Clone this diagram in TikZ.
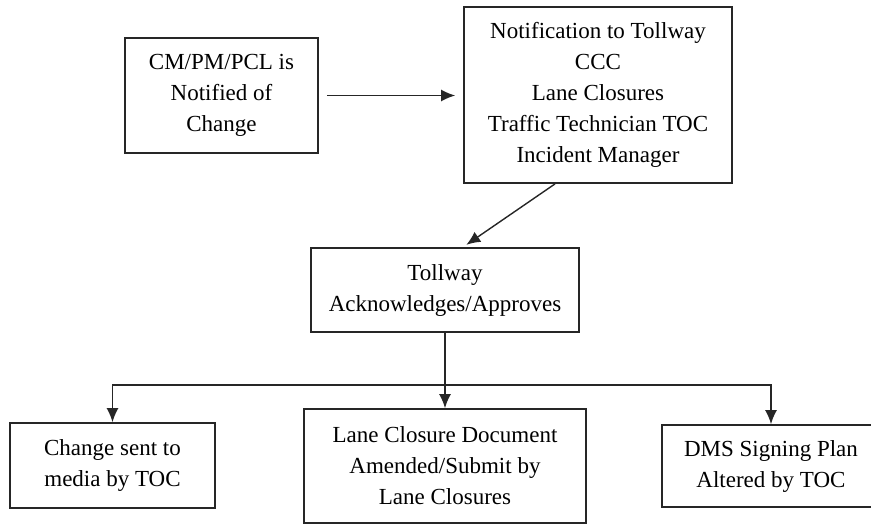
\documentclass[tikz,border=0pt]{standalone}
\usepackage{fontspec}
\setmainfont{Liberation Serif}
\usetikzlibrary{arrows.meta}

\tikzset{
  stepbox/.style={draw=black!85, line width=1.8pt, fill=white, align=center,
    inner sep=0pt, font=\fontsize{23}{31}\selectfont},
  flow/.style={draw=black!85, line width=1.4pt, -{Latex[length=14pt,width=12pt]}}
}

\begin{document}
\begin{tikzpicture}[x=1pt, y=-1pt]
      \useasboundingbox (0,0) rectangle (871,525);

      % Top row
      \node[stepbox, minimum width=193pt, minimum height=115pt] (notified) at (221.5,95.5)
          {CM/PM/PCL is\\Notified of\\Change};
      \node[stepbox, minimum width=268pt, minimum height=176pt] (notify) at (598,95)
          {Notification to Tollway\\CCC\\Lane Closures\\Traffic Technician TOC\\Incident Manager};

      % Middle
      \node[stepbox, minimum width=268pt, minimum height=84pt] (approve) at (445,290)
          {Tollway\\Acknowledges/Approves};

      % Bottom row
      \node[stepbox, minimum width=205pt, minimum height=85pt] (media) at (112.5,465.5)
          {Change sent to\\media by TOC};
      \node[stepbox, minimum width=282pt, minimum height=114pt] (document) at (445,466)
          {Lane Closure Document\\Amended/Submit by\\Lane Closures};
      \node[stepbox, minimum width=218pt, minimum height=82pt] (signing) at (771,466)
          {DMS Signing Plan\\Altered by TOC};

      % Connectors
      \draw[flow, shorten <=8pt, shorten >=8pt] (notified.east) -- (notified.east -| notify.west);
      \draw[flow, shorten >=4pt] ([xshift=-43pt]notify.south) -- ([xshift=18pt]approve.north);
      \draw[flow] (approve.south) -- (document.north);

      \coordinate (split) at (445,385);
      \draw[flow] (split) -| (media.north);
      \draw[flow] (split) -| (signing.north);
    \end{tikzpicture}
\end{document}
